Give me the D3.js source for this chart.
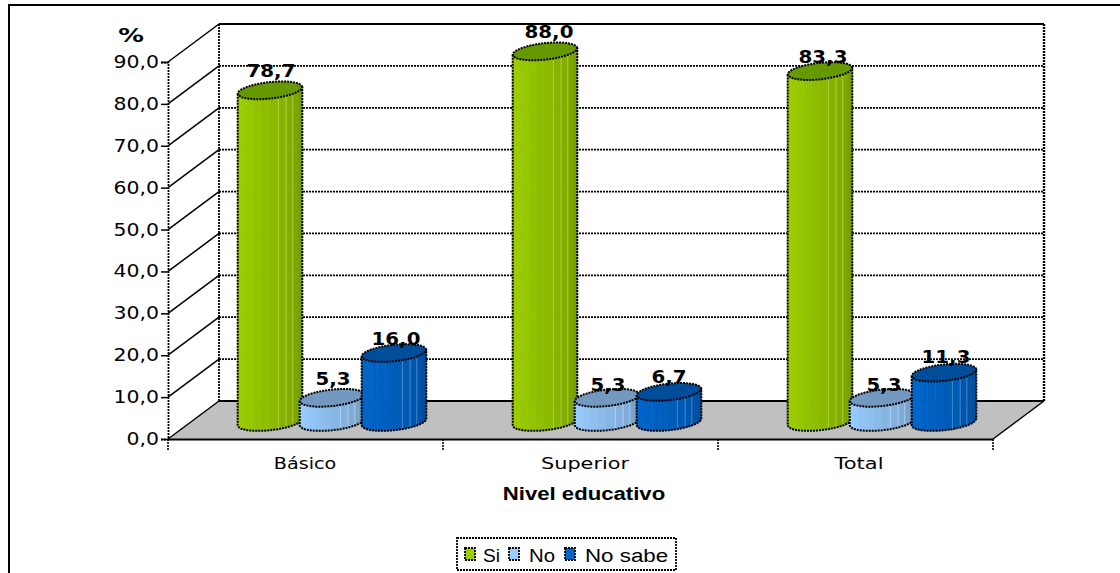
<!DOCTYPE html>
<html>
<head>
<meta charset="utf-8">
<script src="https://cdn.jsdelivr.net/npm/d3@7"></script>
<style>
html,body{margin:0;padding:0;background:#fff;overflow:hidden}
svg{display:block}
text{fill:#000}
</style>
</head>
<body>
<svg id="chart" width="1120" height="573"></svg>
<script>
const categories = ["Básico", "Superior", "Total"];
const seriesNames = ["Si", "No", "No sabe"];
const siValues = [78.7, 88.0, 83.3];
const noValues = [5.3, 5.3, 5.3];
const noSabeValues = [16.0, 6.7, 11.3];
const valueLabelsSi = ["78,7", "88,0", "83,3"];
const valueLabelsNo = ["5,3", "5,3", "5,3"];
const valueLabelsNoSabe = ["16,0", "6,7", "11,3"];
const tickValues = [0, 10, 20, 30, 40, 50, 60, 70, 80, 90];
const tickLabels = ["0,0", "10,0", "20,0", "30,0", "40,0", "50,0", "60,0", "70,0", "80,0", "90,0"];
const sideLight = ["#9CCF00", "#99CCFF", "#0066CC"];
const sideDark = ["#739800", "#7096BC", "#004C99"];
const capColors = ["#669900", "#7399C0", "#004D99"];

const svg = d3.select("#chart");
const dash = "2 1";

// Glyphs are drawn wider than their natural proportions.
function widen(sel, factor) {
  sel.each(function (d, i) {
    const f = Array.isArray(factor) ? factor[i] : factor;
    const len = this.getComputedTextLength();
    d3.select(this).attr("textLength", len * f).attr("lengthAdjust", "spacingAndGlyphs");
  });
}

// Front plane of the 3D box and the offset towards the back wall.
const x0 = d3.scaleBand().domain(categories).range([168, 993]);
const y = d3.scaleLinear().domain([0, 90]).range([439, 62]);
const depthX = d3.scaleLinear().domain([0, 1]).range([0, 51]);
const depthY = d3.scaleLinear().domain([0, 1]).range([0, -38]);
const project = (px, value, depth) => [px + depthX(depth), y(value) + depthY(depth)];

const x1 = d3.scaleBand().domain(seriesNames).range([45.5, 231.5]);

// Outer frame, open on the right and at the bottom.
svg.append("path").attr("d", "M9,573V5H1120").attr("fill", "none")
  .attr("stroke", "#000").attr("stroke-width", 2);

const [xLeft, xRight] = x0.range();

// Floor
const floor = [project(xLeft, 0, 0), project(xLeft, 0, 1), project(xRight, 0, 1), project(xRight, 0, 0)];
svg.append("polygon").attr("points", floor.join(" ")).attr("fill", "#C0C0C0");

// Back wall gridlines and side wall diagonals
const grid = svg.append("g").attr("fill", "none").attr("stroke", "#000");
tickValues.forEach(v => {
  const a = project(xLeft, v, 1), b = project(xRight, v, 1), f = project(xLeft, v, 0);
  grid.append("line").attr("x1", a[0]).attr("y1", a[1]).attr("x2", b[0]).attr("y2", b[1])
    .attr("stroke-width", v === 0 || v === 90 ? 2.2 : 1.8).attr("stroke-dasharray", v === 0 || v === 90 ? null : dash);
  grid.append("line").attr("x1", f[0]).attr("y1", f[1]).attr("x2", a[0]).attr("y2", a[1])
    .attr("stroke-width", 1.5);
});
[xLeft, xRight].forEach((px, i) => {
  const t = project(px, 90, 1), b = project(px, 0, 1);
  grid.append("line").attr("x1", t[0]).attr("y1", t[1]).attr("x2", b[0]).attr("y2", b[1])
    .attr("stroke-width", i ? 2.4 : 1.8).attr("stroke-dasharray", dash);
});
// Right edge of the floor
const fr = [project(xRight, 0, 0), project(xRight, 0, 1)];
grid.append("line").attr("x1", fr[0][0]).attr("y1", fr[0][1]).attr("x2", fr[1][0]).attr("y2", fr[1][1])
  .attr("stroke-width", 1.5);

// Value axis
const yAxis = svg.append("g").attr("transform", `translate(${xLeft},0)`)
  .call(d3.axisLeft(y).tickValues(tickValues).tickSize(7).tickPadding(2)
    .tickFormat((d, i) => tickLabels[i]));
yAxis.select(".domain").attr("stroke", "#000").attr("stroke-width", 1.8).attr("stroke-dasharray", dash);
yAxis.selectAll(".tick line").attr("stroke", "#000").attr("stroke-width", 1.5);
yAxis.selectAll("text").attr("font-family", "'DejaVu Sans'").attr("font-size", 17).attr("fill", "#000").call(widen, 1.2);

// Category axis
const categoryLabelShift = [-0.5, 4.5, 3.5];
const xAxis = svg.append("g").attr("transform", `translate(0,${y(0)})`)
  .call(d3.axisBottom(x0).tickSize(0).tickPadding(18));
xAxis.select(".domain").attr("stroke", "#000").attr("stroke-width", 2.2);
xAxis.selectAll("text").attr("font-family", "'DejaVu Sans'").attr("font-size", 16.5).attr("fill", "#000")
  .attr("dx", (d, i) => categoryLabelShift[i]).call(widen, [1.16, 1.26, 1.27]);
const boundaries = categories.map(c => x0(c)).concat([xRight]);
svg.append("g").selectAll("line").data(boundaries).join("line")
  .attr("x1", d => d).attr("x2", d => d).attr("y1", y(0)).attr("y2", y(0) + 11)
  .attr("stroke", "#000").attr("stroke-width", 1.6).attr("stroke-dasharray", dash);

// Cylinders: faceted side, low-poly top and dashed outline
const seriesData = [
  { name: seriesNames[0], values: siValues, labels: valueLabelsSi, dy: [13, 13, 8], dx: [1, 4, 3] },
  { name: seriesNames[1], values: noValues, labels: valueLabelsNo, dy: [13, 7, 7], dx: [1, 1, 2] },
  { name: seriesNames[2], values: noSabeValues, labels: valueLabelsNoSabe, dy: [8, 9, 10], dx: [2, 0, 2] }
];
const FACETS = 12;
const DEPTH_MID = 0.5, DEPTH_R = 0.235, BASE_DROP = 2;
const SEAMS = [7, 8, 9];

function cylinder(g, cat, si, s) {
  const value = s.values[cat];
  const u = x1.bandwidth() / 2 - 1;
  const planeX = x0(categories[cat]) + x1(s.name) + x1.bandwidth() / 2;
  const vx = depthX(DEPTH_R), vy = depthY(DEPTH_R);
  const t0 = Math.atan2(vx, u);
  const ring = (val, t, drop = 0) => {
    const c = project(planeX, val, DEPTH_MID);
    return [c[0] + u * Math.cos(t) + vx * Math.sin(t), c[1] + drop + vy * Math.sin(t)];
  };
  const frontAngles = d3.range(FACETS + 1).map(i => t0 + Math.PI + Math.PI * i / FACETS);
  const shade = d3.interpolateRgb(sideLight[si], sideDark[si]);
  frontAngles.slice(0, -1).forEach((t, i) => {
    const t2 = frontAngles[i + 1];
    const pts = [ring(value, t), ring(value, t2), ring(0, t2, BASE_DROP), ring(0, t, BASE_DROP)];
    const col = shade(Math.pow(i / (FACETS - 1), 1.5));
    g.append("polygon").attr("points", pts.join(" ")).attr("fill", col)
      .attr("stroke", col).attr("stroke-width", 0.6);
  });
  // Pale seams between the narrow facets on the shaded side
  SEAMS.forEach(i => {
    const a = ring(value, frontAngles[i]), b = ring(0, frontAngles[i], BASE_DROP);
    g.append("line").attr("x1", a[0]).attr("y1", a[1]).attr("x2", b[0]).attr("y2", b[1])
      .attr("stroke", d3.interpolateRgb(sideLight[si], "#fff")(0.35)).attr("stroke-opacity", 0.7).attr("stroke-width", 1);
  });
  const capPts = d3.range(2 * FACETS).map(i => ring(value, t0 + Math.PI * i / FACETS));
  g.append("polygon").attr("points", capPts.join(" ")).attr("fill", capColors[si])
    .attr("stroke", "#000").attr("stroke-width", 2).attr("stroke-dasharray", dash).attr("stroke-linejoin", "round");
  const outline = [ring(value, frontAngles[0])]
    .concat(frontAngles.map(t => ring(0, t, BASE_DROP)))
    .concat([ring(value, frontAngles[FACETS])]);
  g.append("path").attr("d", d3.line()(outline)).attr("fill", "none")
    .attr("stroke", "#000").attr("stroke-width", 2).attr("stroke-dasharray", dash).attr("stroke-linejoin", "round");
}

const bars = svg.append("g");
categories.forEach((c, cat) => {
  seriesData.forEach((s, si) => cylinder(bars.append("g"), cat, si, s));
});

// Value labels above each cylinder
const labelLayer = svg.append("g");
categories.forEach((c, cat) => {
  seriesData.forEach(s => {
    const planeX = x0(c) + x1(s.name) + x1.bandwidth() / 2;
    const top = project(planeX, s.values[cat], DEPTH_MID);
    labelLayer.append("text").attr("x", top[0] + s.dx[cat]).attr("y", top[1] - s.dy[cat])
      .attr("text-anchor", "middle").attr("font-family", "'DejaVu Sans'")
      .attr("font-weight", "bold").attr("font-size", 18)
      .text(s.labels[cat]).call(widen, 1.1);
  });
});

// Axis titles
svg.append("text").attr("x", 131).attr("y", 42).attr("text-anchor", "middle")
  .attr("font-family", "'DejaVu Sans'").attr("font-weight", "bold").attr("font-size", 19).text("%").call(widen, 1.35);
svg.append("text").attr("x", 584).attr("y", 500).attr("text-anchor", "middle")
  .attr("font-family", "'Liberation Sans'").attr("font-weight", "bold").attr("font-size", 18)
  .text("Nivel educativo").call(widen, 1.23);

// Legend
svg.append("rect").attr("x", 457).attr("y", 538).attr("width", 219).attr("height", 32)
  .attr("fill", "#fff").attr("stroke", "#000").attr("stroke-width", 1.8).attr("stroke-dasharray", dash);
const legendSwatchX = [465, 509, 565];
const legendTextX = [483, 529, 585];
const legendWiden = [1.06, 1.13, 1.24];
seriesNames.forEach((n, i) => {
  svg.append("rect").attr("x", legendSwatchX[i]).attr("y", 548).attr("width", 10).attr("height", 12)
    .attr("fill", sideLight[i]).attr("stroke", "#000").attr("stroke-width", 1.8).attr("stroke-dasharray", dash);
  svg.append("text").attr("x", legendTextX[i]).attr("y", 562)
    .attr("font-family", "'Liberation Sans'").attr("font-size", 18).text(n).call(widen, legendWiden[i]);
});
</script>
</body>
</html>
